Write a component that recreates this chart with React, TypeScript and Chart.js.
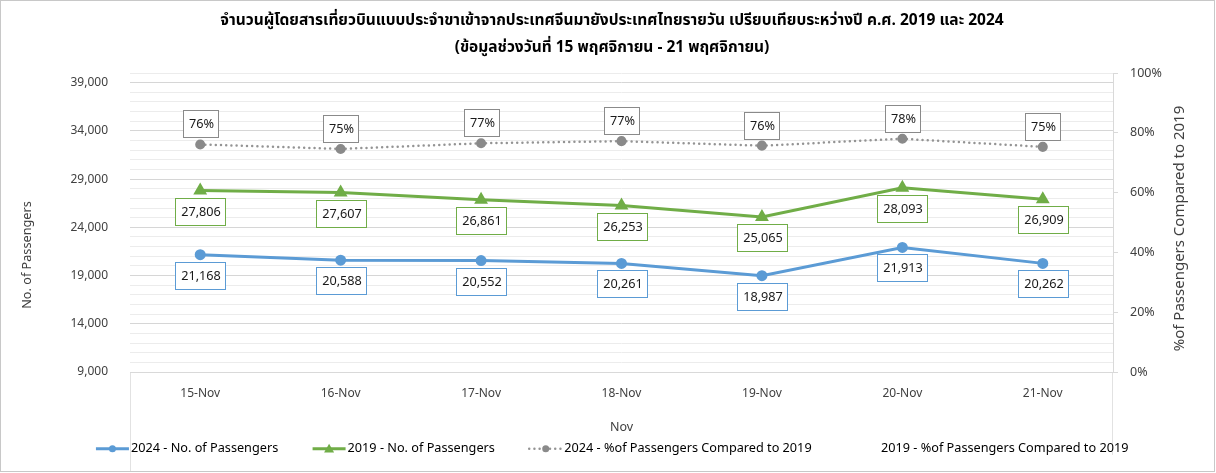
import React, { useEffect, useRef } from 'react';
import { Chart, registerables } from 'chart.js';

Chart.register(...registerables);

// ---- data ----
const days = ['15-Nov', '16-Nov', '17-Nov', '18-Nov', '19-Nov', '20-Nov', '21-Nov'];
const passengers2024 = [21168, 20588, 20552, 20261, 18987, 21913, 20262];
const passengers2019 = [27806, 27607, 26861, 26253, 25065, 28093, 26909];
const share2024 = [76.1, 74.6, 76.5, 77.2, 75.7, 78.0, 75.3];
const share2019 = [100, 100, 100, 100, 100, 100, 100];

const passengerMajorTicks = [9000, 14000, 19000, 24000, 29000, 34000, 39000];
const shareTicks = [0, 20, 40, 60, 80, 100];

const titleLines = [
  'จำนวนผู้โดยสารเที่ยวบินแบบประจำขาเข้าจากประเทศจีนมายังประเทศไทยรายวัน เปรียบเทียบระหว่างปี ค.ศ. 2019 และ 2024',
  '(ข้อมูลช่วงวันที่ 15 พฤศจิกายน - 21 พฤศจิกายน)',
];
const leftAxisTitle = 'No. of Passengers';
const rightAxisTitle = '%of Passengers Compared to 2019';
const xAxisTitle = 'Nov';

const FONT = "'Noto Sans', 'DejaVu Sans', sans-serif";
const TITLE_FONT = "Tahoma, 'Noto Sans Thai', 'Noto Sans', sans-serif";

const BLUE = '#5B9BD5';
const GREEN = '#70AD47';
const GRAY_LINE = '#949494';
const GRAY_MARK = '#8a8a8a';

const LEGEND_BOX = 29;
const LEGEND_FONT = 12.7;
const LABEL_FONT = 12.7;

// outer frame and the faint plot-area extension lines
const framePlugin = {
  id: 'frame',
  beforeDraw(chart: any) {
    const { ctx, chartArea, width, height } = chart;
    ctx.save();
    ctx.strokeStyle = '#c8c8c8';
    ctx.lineWidth = 1;
    ctx.strokeRect(0.5, 0.5, width - 2, height - 2);
    ctx.strokeStyle = '#e2e2e2';
    ctx.beginPath();
    const l = Math.round(chartArea.left) + 0.5;
    const r = Math.round(chartArea.right) - 0.5;
    ctx.moveTo(l, chartArea.bottom);
    ctx.lineTo(l, height - 2);
    ctx.moveTo(r, chartArea.bottom);
    ctx.lineTo(r, chartArea.bottom + 83);
    ctx.stroke();
    ctx.restore();
  },
};

// axis titles: both vertical ones read bottom-to-top
const axisTitlePlugin = {
  id: 'axisTitles',
  afterDraw(chart: any) {
    const { ctx, chartArea } = chart;
    const draw = (text: string, x: number, y: number, size: number, rotate: boolean) => {
      ctx.save();
      ctx.translate(x, y);
      if (rotate) ctx.rotate(-Math.PI / 2);
      ctx.font = `${size}px ${FONT}`;
      ctx.fillStyle = '#404040';
      ctx.textAlign = 'center';
      ctx.textBaseline = 'middle';
      ctx.fillText(text, 0, 0);
      ctx.restore();
    };
    draw(leftAxisTitle, chartArea.left - 103, chartArea.bottom - 117, 12.7, true);
    draw(rightAxisTitle, chartArea.right + 67, (chartArea.top + chartArea.bottom) / 2 + 6, 15, true);
    draw(xAxisTitle, (chartArea.left + chartArea.right) / 2, chartArea.bottom + 55, 12.5, false);
  },
};

// boxed value labels next to each point
const valueLabelPlugin = {
  id: 'valueLabels',
  afterDatasetsDraw(chart: any) {
    const { ctx } = chart;
    chart.data.datasets.forEach((ds: any, i: number) => {
      if (!ds.labelSide) return;
      const meta = chart.getDatasetMeta(i);
      meta.data.forEach((pt: any, j: number) => {
        const v = ds.data[j];
        const text = ds.labelKind === 'percent' ? `${Math.round(v)}%` : v.toLocaleString('en-US');
        ctx.save();
        ctx.font = `${LABEL_FONT}px ${FONT}`;
        const tw = ctx.measureText(text).width;
        const w = Math.round(tw + 10);
        const h = 27;
        const x = Math.round(pt.x - w / 2);
        const y = Math.round(ds.labelSide === 'below' ? pt.y + 7 : pt.y - 7 - h);
        ctx.fillStyle = '#ffffff';
        ctx.fillRect(x, y, w, h);
        ctx.strokeStyle = ds.labelBorder;
        ctx.lineWidth = 1;
        ctx.strokeRect(x + 0.5, y + 0.5, w, h);
        ctx.fillStyle = '#1a1a1a';
        ctx.textAlign = 'center';
        ctx.textBaseline = 'middle';
        ctx.fillText(text, x + w / 2 + 1, y + h / 2 + 1);
        ctx.restore();
      });
    });
  },
};

// line + marker swatches for the legend
const legendSwatchPlugin = {
  id: 'legendSwatches',
  afterDraw(chart: any) {
    const legend = chart.legend;
    if (!legend || !legend.legendHitBoxes) return;
    const { ctx } = chart;
    legend.legendHitBoxes.forEach((hb: any, i: number) => {
      const ds: any = chart.data.datasets[i];
      if (!ds || !ds.legendMark) return;
      const x1 = hb.left + LEGEND_BOX + LEGEND_FONT / 2 - 2;
      const x0 = x1 - 33;
      const y = hb.top + hb.height / 2;
      ctx.save();
      ctx.strokeStyle = ds.borderColor;
      ctx.lineWidth = ds.borderWidth;
      ctx.lineCap = ds.borderCapStyle || 'butt';
      ctx.setLineDash(ds.borderDash || []);
      ctx.beginPath();
      ctx.moveTo(x0, y);
      ctx.lineTo(x1, y);
      ctx.stroke();
      ctx.setLineDash([]);
      ctx.fillStyle = ds.pointBackgroundColor;
      const cx = (x0 + x1) / 2;
      ctx.beginPath();
      if (ds.legendMark === 'triangle') {
        const r = 5;
        ctx.moveTo(cx, y - r);
        ctx.lineTo(cx + r, y + r * 0.75);
        ctx.lineTo(cx - r, y + r * 0.75);
        ctx.closePath();
      } else {
        ctx.arc(cx, y, 3.5, 0, Math.PI * 2);
      }
      ctx.fill();
      ctx.restore();
    });
  },
};

export default function App() {
  const canvasRef = useRef<HTMLCanvasElement | null>(null);

  useEffect(() => {
    document.body.style.margin = '0';
    const canvas = canvasRef.current;
    if (!canvas) return;

    const chart = new Chart(canvas, {
      type: 'line',
      data: {
        labels: days,
        datasets: [
          {
            label: '2024 - No. of Passengers',
            data: passengers2024,
            yAxisID: 'y',
            borderColor: BLUE,
            backgroundColor: BLUE,
            pointBackgroundColor: BLUE,
            pointBorderColor: BLUE,
            borderWidth: 3,
            pointRadius: 4,
            pointStyle: 'circle',
            tension: 0,
            labelSide: 'below',
            labelKind: 'count',
            labelBorder: BLUE,
            legendMark: 'circle',
          } as any,
          {
            label: '2019 - No. of Passengers',
            data: passengers2019,
            yAxisID: 'y',
            borderColor: GREEN,
            backgroundColor: GREEN,
            pointBackgroundColor: GREEN,
            pointBorderColor: GREEN,
            borderWidth: 3,
            pointRadius: 5,
            pointStyle: 'triangle',
            tension: 0,
            labelSide: 'below',
            labelKind: 'count',
            labelBorder: GREEN,
            legendMark: 'triangle',
          } as any,
          {
            label: '2024 - %of Passengers Compared to 2019',
            data: share2024,
            yAxisID: 'y1',
            borderColor: GRAY_LINE,
            backgroundColor: GRAY_MARK,
            pointBackgroundColor: GRAY_MARK,
            pointBorderColor: GRAY_MARK,
            borderWidth: 2.5,
            borderDash: [0, 5.2],
            borderCapStyle: 'round',
            pointRadius: 3.8,
            pointStyle: 'circle',
            tension: 0,
            labelSide: 'above',
            labelKind: 'percent',
            labelBorder: GRAY_MARK,
            legendMark: 'circle',
          } as any,
          {
            label: '2019 - %of Passengers Compared to 2019',
            data: share2019,
            yAxisID: 'y1',
            borderColor: 'rgba(0,0,0,0)',
            backgroundColor: 'rgba(0,0,0,0)',
            borderWidth: 0,
            pointRadius: 0,
            showLine: false,
          } as any,
        ],
      },
      options: {
        animation: false,
        responsive: true,
        maintainAspectRatio: false,
        events: [],
        layout: { padding: { top: 8, left: 8, right: 0, bottom: 8 } },
        plugins: {
          title: {
            display: true,
            text: titleLines,
            color: '#000000',
            font: { family: TITLE_FONT, size: 15.5, weight: 'bold', lineHeight: '27px' } as any,
            padding: { top: 0, bottom: 11 },
          },
          legend: {
            position: 'bottom',
            labels: {
              boxWidth: LEGEND_BOX,
              boxHeight: LEGEND_FONT,
              padding: 34,
              color: '#404040',
              font: { family: FONT, size: LEGEND_FONT },
              generateLabels: (c: any) =>
                c.data.datasets.map((ds: any, i: number) => ({
                  text: ds.label,
                  fillStyle: 'rgba(0,0,0,0)',
                  strokeStyle: 'rgba(0,0,0,0)',
                  lineWidth: 0,
                  hidden: false,
                  datasetIndex: i,
                })),
            },
          },
          tooltip: { enabled: false },
        },
        scales: {
          x: {
            offset: true,
            grid: { display: false },
            border: { display: true, color: '#d9d9d9' },
            ticks: { color: '#404040', font: { family: FONT, size: 12 }, padding: 6 },
            title: { display: false },
            afterFit: (s: any) => { s.height = 36.3; },
          },
          y: {
            position: 'left',
            min: 9000,
            max: 40000,
            ticks: {
              stepSize: 1000,
              autoSkip: false,
              maxTicksLimit: 100,
              padding: 22,
              color: '#404040',
              font: { family: FONT, size: 12 },
              callback: (v: any) => (passengerMajorTicks.includes(Number(v)) ? Number(v).toLocaleString('en-US') : ''),
            },
            grid: {
              drawTicks: false,
              color: (c: any) => (c.tick && passengerMajorTicks.includes(c.tick.value) ? '#d6d6d6' : '#ececec'),
            },
            border: { display: false },
            afterFit: (s: any) => { s.width = 122; },
          },
          y1: {
            position: 'right',
            min: 0,
            max: 100,
            afterBuildTicks: (s: any) => { s.ticks = shareTicks.map((v) => ({ value: v })); },
            ticks: {
              padding: 12,
              color: '#404040',
              font: { family: FONT, size: 12.5 },
              callback: (v: any) => `${v}%`,
            },
            grid: { drawOnChartArea: false, drawTicks: true, tickLength: 5, color: '#d9d9d9' },
            border: { display: true, color: '#d9d9d9' },
            afterFit: (s: any) => { s.width = 103; },
          },
        },
      } as any,
      plugins: [framePlugin, axisTitlePlugin, valueLabelPlugin, legendSwatchPlugin],
    });

    return () => chart.destroy();
  }, []);

  return (
    <div style={{ width: 1216, height: 473, position: 'relative', background: '#ffffff' }}>
      <canvas ref={canvasRef} />
    </div>
  );
}
